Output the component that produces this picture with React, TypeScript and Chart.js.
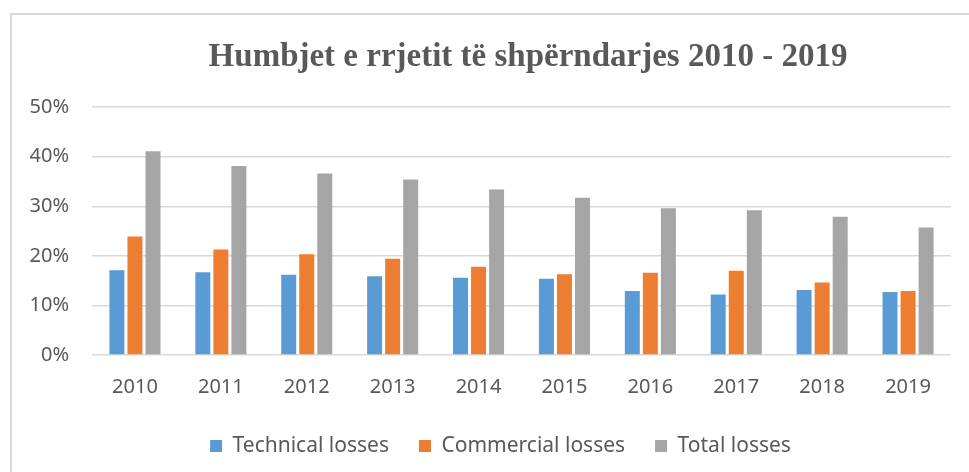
import React, { useEffect, useRef } from "react";
import { Chart, registerables } from "chart.js";

Chart.register(...registerables);

const categories = ["2010", "2011", "2012", "2013", "2014", "2015", "2016", "2017", "2018", "2019"];
const technicalLosses = [17.1, 16.7, 16.2, 15.9, 15.6, 15.4, 12.9, 12.2, 13.1, 12.7];
const commercialLosses = [23.9, 21.3, 20.3, 19.4, 17.8, 16.3, 16.6, 17.0, 14.6, 12.9];
const totalLosses = [41.1, 38.1, 36.6, 35.4, 33.4, 31.7, 29.6, 29.2, 27.9, 25.7];
const yTicks = [0, 10, 20, 30, 40, 50];
const titleText = "Humbjet e rrjetit të shpërndarjes 2010 - 2019";

// shifts the title and legend horizontally to match the reference's off-centre placement
const shiftPlugin = {
  id: "shiftBlocks",
  afterLayout(chart: any) {
    const t = chart.titleBlock;
    if (t) {
      t.left += 52.5;
      t.right += 52.5;
    }
    const l = chart.legend;
    if (l) {
      l.left += 25;
      l.right += 25;
    }
  },
};

export default function App() {
  const ref = useRef<HTMLCanvasElement | null>(null);

  useEffect(() => {
    if (!ref.current) return;
    const tickFont = { family: "'Noto Sans', sans-serif", size: 20 };
    const chart = new Chart(ref.current, {
      type: "bar",
      data: {
        labels: categories,
        datasets: [
          { label: "Technical losses", data: technicalLosses, backgroundColor: "#5B9BD5" },
          { label: "Commercial losses", data: commercialLosses, backgroundColor: "#ED7D31" },
          { label: "Total losses", data: totalLosses, backgroundColor: "#A5A5A5" },
        ],
      },
      plugins: [shiftPlugin],
      options: {
        animation: false,
        responsive: false,
        maintainAspectRatio: false,
        layout: { padding: { left: 0, right: 18, top: 0, bottom: 5.5 } },
        datasets: { bar: { categoryPercentage: 0.63, barPercentage: 0.83 } },
        plugins: {
          title: {
            display: true,
            text: titleText,
            color: "#595959",
            font: { family: "'Liberation Serif', serif", size: 33, weight: "bold" },
            padding: { top: 37.5, bottom: 30 },
          },
          legend: {
            position: "bottom",
            labels: {
              color: "#595959",
              font: { family: "'Noto Sans', sans-serif", size: 21 },
              boxWidth: 12,
              boxHeight: 12,
              padding: 30,
            },
          },
          tooltip: { enabled: false },
        },
        scales: {
          x: {
            grid: { display: false },
            border: { display: false },
            ticks: { color: "#595959", font: tickFont, padding: 12.5, maxRotation: 0 },
            afterFit: (s: any) => { s.height = 50.5; },
          },
          y: {
            min: 0,
            max: 50,
            grid: { color: "#d9d9d9", lineWidth: 1.5, drawTicks: false },
            border: { display: false },
            ticks: {
              color: "#595959",
              font: tickFont,
              padding: 23,
              stepSize: 10,
              callback: (v: any) => (yTicks.includes(Number(v)) ? v + "%" : ""),
            },
            afterFit: (s: any) => { s.width = 92; },
          },
        },
      },
    });
    return () => chart.destroy();
  }, []);

  return (
    <div style={{ position: "fixed", left: 0, top: 0, width: 969, height: 472, background: "#fff", overflow: "hidden" }}>
      <div style={{ position: "absolute", left: 10, top: 13, width: 980, height: 480, border: "2px solid #d9d9d9", boxSizing: "border-box" }} />
      <canvas ref={ref} width={969} height={472} style={{ position: "absolute", left: 0, top: 0 }} />
    </div>
  );
}
